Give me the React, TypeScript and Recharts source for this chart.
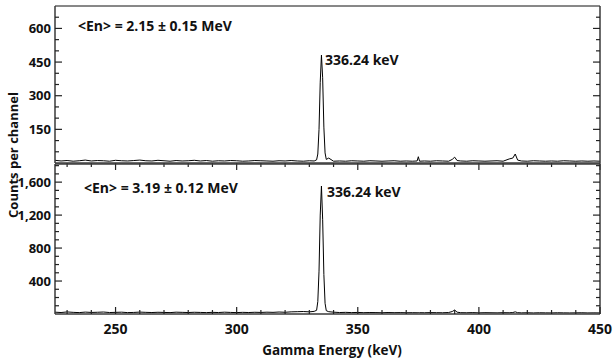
import React from "react";
import { LineChart, Line, XAxis, YAxis, ReferenceLine } from "recharts";

// energy (keV) of each sampled channel
const energy = [
  225, 227.5, 230, 232.5, 235, 237.5, 240, 242.5, 245, 247.5, 250, 252.5, 255, 257.5, 260, 262.5,
  265, 267.5, 270, 272.5, 275, 277.5, 280, 282.5, 285, 287.5, 290, 292.5, 295, 297.5, 300, 302.5,
  305, 307.5, 310, 312.5, 315, 317.5, 320, 322.5, 325, 327.5, 330,
  332, 333, 333.5, 334, 334.5, 335, 335.5, 336, 336.5, 337, 338, 340,
  342.5, 345, 347.5, 350, 352.5, 355, 357.5, 360, 362.5, 365, 367.5, 370, 372.5,
  374.5, 375, 375.5,
  377.5, 380, 382.5, 385, 387.5,
  389, 390, 391,
  392.5, 395, 397.5, 400, 402.5, 405, 407.5, 410, 412.5,
  414, 415, 416,
  417.5, 420, 422.5, 425, 427.5, 430, 432.5, 435, 437.5, 440, 442.5, 445, 447.5, 450,
];

// <En> = 2.15 MeV
const countsLow = [
  12, 9, 11, 8, 10, 13, 9, 11, 10, 8, 12, 10, 9, 11, 13, 10,
  9, 12, 10, 8, 11, 9, 10, 12, 9, 11, 8, 10, 9, 11, 10, 8,
  9, 11, 10, 9, 8, 10, 9, 11, 9, 8, 10,
  9, 14, 40, 150, 360, 481, 380, 160, 45, 16, 22, 8,
  9, 8, 10, 9, 8, 10, 9, 8, 9, 10, 8, 9, 8,
  9, 28, 8,
  9, 8, 10, 9, 8,
  16, 26, 11,
  9, 8, 10, 9, 8, 9, 10, 8, 18,
  22, 40, 13,
  9, 8, 10, 9, 8, 9, 8, 10, 9, 8, 9, 8, 9, 8,
];

// <En> = 3.19 MeV
const countsHigh = [
  22, 18, 25, 20, 17, 23, 19, 21, 24, 18, 20, 22, 17, 19, 23, 20,
  18, 21, 19, 17, 22, 20, 18, 21, 19, 17, 20, 18, 22, 19, 17, 20,
  18, 21, 19, 22, 20, 24, 21, 26, 28, 30, 26,
  32, 45, 150, 520, 1200, 1553, 1150, 480, 130, 40, 28, 22,
  18, 20, 17, 19, 16, 18, 17, 15, 18, 16, 17, 15, 16,
  15, 17, 16,
  15, 17, 16, 15, 18,
  30, 48, 22,
  16, 15, 17, 14, 16, 15, 14, 16, 15,
  18, 26, 16,
  14, 15, 13, 15, 14, 13, 15, 14, 13, 14, 15, 13, 14, 13,
];

const xTicks = [230, 240, 250, 260, 270, 280, 290, 300, 310, 320, 330, 340, 350, 360, 370, 380, 390, 400, 410, 420, 430, 440, 450];
const lowTicks = [50, 100, 150, 200, 250, 300, 350, 400, 450, 500, 550, 600, 650];
const lowMajor = [150, 300, 450, 600];
const highTicks = [100, 200, 300, 400, 500, 600, 700, 800, 900, 1000, 1100, 1200, 1300, 1400, 1500, 1600, 1700, 1800];
const highMajor = [400, 800, 1200, 1600];

const lowData = energy.map((e, i) => ({ energy: e, counts: countsLow[i] }));
const highData = energy.map((e, i) => ({ energy: e, counts: countsHigh[i] }));

const FONT = "'Open Sans', sans-serif";
const AXIS = "#3a3a3a";

function XTick(props: any) {
  const { x, y, payload, dir, labels } = props;
  const v = payload.value;
  const major = v % 50 === 0;
  const len = major ? 7 : 4;
  return (
    <g>
      <line x1={x} x2={x} y1={y} y2={y + dir * len} stroke="#222" strokeWidth={1.2} />
      {labels && major && (
        <text x={x} y={y + 20} textAnchor="middle" fontSize={14} fontWeight={700} fill="#111" fontFamily={FONT}>
          {v}
        </text>
      )}
    </g>
  );
}

function YTick(props: any) {
  const { x, y, payload, dir, major, labels } = props;
  const v = payload.value;
  const isMajor = major.includes(v);
  const len = isMajor ? 7 : 4;
  return (
    <g>
      <line x1={x} x2={x + dir * len} y1={y} y2={y} stroke="#222" strokeWidth={1.2} />
      {labels && isMajor && (
        <text x={x - 4} y={y} dy="0.36em" textAnchor="end" fontSize={13} fontWeight={700} fill="#111" fontFamily={FONT}>
          {v.toLocaleString("en-US")}
        </text>
      )}
    </g>
  );
}

const textStyle: React.CSSProperties = {
  position: "absolute",
  fontFamily: FONT,
  fontWeight: 700,
  fontSize: 14,
  lineHeight: "15px",
  color: "#111",
  whiteSpace: "nowrap",
};

export default function App() {
  return (
    <div style={{ position: "absolute", left: 0, top: 0, width: 614, height: 360, background: "#fff", overflow: "hidden" }}>
      <div style={{ position: "absolute", left: 0, top: 0 }}>
        <LineChart width={614} height={180} data={lowData} margin={{ top: 6, right: 0, left: 0, bottom: 0 }}>
          <XAxis
            dataKey="energy"
            type="number"
            domain={[225, 450]}
            allowDataOverflow
            ticks={xTicks}
            interval={0}
            height={17}
            tickSize={0}
            tickMargin={0}
            tickLine={false}
            axisLine={{ stroke: AXIS, strokeWidth: 1.5 }}
            tick={(p: any) => <XTick {...p} dir={1} labels={false} />}
          />
          <YAxis
            yAxisId="left"
            type="number"
            domain={[0, 700]}
            allowDataOverflow
            ticks={lowTicks}
            interval={0}
            width={55}
            tickSize={0}
            tickMargin={0}
            tickLine={false}
            axisLine={{ stroke: AXIS, strokeWidth: 1.5 }}
            tick={(p: any) => <YTick {...p} dir={1} major={lowMajor} labels />}
          />
          <YAxis
            yAxisId="right"
            orientation="right"
            type="number"
            domain={[0, 700]}
            allowDataOverflow
            ticks={lowTicks}
            interval={0}
            width={14}
            tickSize={0}
            tickMargin={0}
            tickLine={false}
            axisLine={{ stroke: AXIS, strokeWidth: 1.5 }}
            tick={(p: any) => <YTick {...p} dir={-1} major={lowMajor} labels={false} />}
          />
          <ReferenceLine yAxisId="left" y={700} stroke="#111" strokeWidth={1} />
          <Line
            yAxisId="left"
            type="linear"
            dataKey="counts"
            stroke="#000"
            strokeWidth={1}
            dot={false}
            isAnimationActive={false}
          />
        </LineChart>
      </div>
      <div style={{ position: "absolute", left: 0, top: 150 }}>
        <LineChart width={614} height={210} data={highData} margin={{ top: 14, right: 0, left: 0, bottom: 0 }}>
          <XAxis
            dataKey="energy"
            type="number"
            domain={[225, 450]}
            allowDataOverflow
            ticks={xTicks}
            interval={0}
            height={46}
            tickSize={0}
            tickMargin={0}
            tickLine={false}
            axisLine={{ stroke: AXIS, strokeWidth: 1.5 }}
            tick={(p: any) => <XTick {...p} dir={-1} labels />}
          />
          <YAxis
            yAxisId="left"
            type="number"
            domain={[0, 1820]}
            allowDataOverflow
            ticks={highTicks}
            interval={0}
            width={55}
            tickSize={0}
            tickMargin={0}
            tickLine={false}
            axisLine={{ stroke: AXIS, strokeWidth: 1.5 }}
            tick={(p: any) => <YTick {...p} dir={1} major={highMajor} labels />}
          />
          <YAxis
            yAxisId="right"
            orientation="right"
            type="number"
            domain={[0, 1820]}
            allowDataOverflow
            ticks={highTicks}
            interval={0}
            width={14}
            tickSize={0}
            tickMargin={0}
            tickLine={false}
            axisLine={{ stroke: AXIS, strokeWidth: 1.5 }}
            tick={(p: any) => <YTick {...p} dir={-1} major={highMajor} labels={false} />}
          />
          <ReferenceLine yAxisId="left" y={1820} stroke={AXIS} strokeWidth={1.5} />
          <Line
            yAxisId="left"
            type="linear"
            dataKey="counts"
            stroke="#000"
            strokeWidth={1}
            dot={false}
            isAnimationActive={false}
          />
        </LineChart>
      </div>

      <div style={{ ...textStyle, left: 78, top: 18 }}>{"<En> = 2.15 ± 0.15 MeV"}</div>
      <div style={{ ...textStyle, left: 325, top: 52 }}>336.24 keV</div>
      <div style={{ ...textStyle, left: 84, top: 180 }}>{"<En> = 3.19 ± 0.12 MeV"}</div>
      <div style={{ ...textStyle, left: 327, top: 184 }}>336.24 keV</div>

      <div
        style={{
          ...textStyle,
          fontSize: 13,
          left: 13,
          top: 155,
          transform: "translate(-50%, -50%) rotate(-90deg)",
        }}
      >
        Counts per channel
      </div>
      <div style={{ ...textStyle, fontSize: 13.5, left: 332, top: 350, transform: "translate(-50%, -50%)" }}>
        Gamma Energy (keV)
      </div>
    </div>
  );
}
